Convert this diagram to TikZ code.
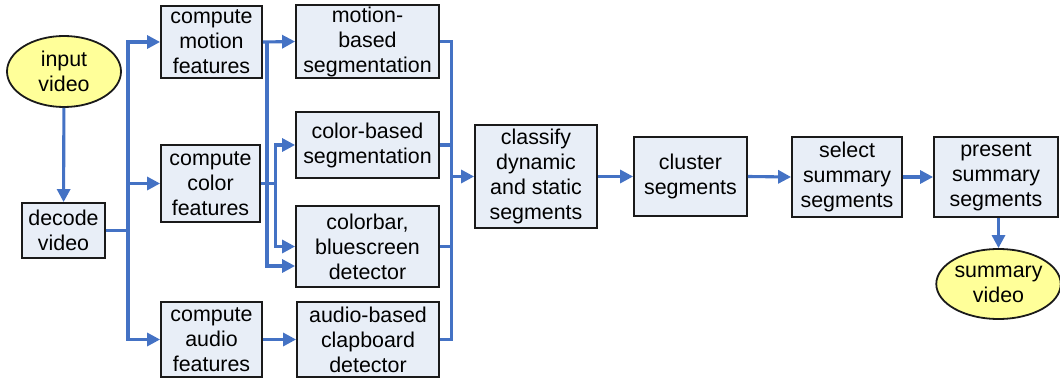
\documentclass[tikz,border=0pt]{standalone}
\usepackage{fontspec}
\setmainfont{Liberation Sans}
\usetikzlibrary{arrows.meta,shapes.geometric,calc}
\definecolor{lineblue}{HTML}{4472C4}
\definecolor{boxfill}{HTML}{E8EEF7}
\definecolor{ellfill}{HTML}{FFFF99}
\definecolor{edge}{HTML}{1A1A1A}
\begin{document}
\begin{tikzpicture}[x=1pt,y=-1pt,
  every node/.style={font=\fontsize{21.4pt}{25pt}\selectfont, align=center, inner sep=0pt},
  procbox/.style={draw=edge, line width=1.8pt, fill=boxfill, rectangle},
  ioell/.style={draw=edge, line width=1.8pt, fill=ellfill, ellipse},
  conn/.style={draw=lineblue, line width=3.1pt},
  arr/.style={conn, -{Triangle[length=13pt,width=13pt]}}
]
\useasboundingbox (0,0) rectangle (1060,379);

% nodes
\node[ioell, minimum width=114pt, minimum height=71pt] (input) at (64,71.5) {input\\video};
\node[procbox, minimum width=83pt, minimum height=55pt] (decode) at (63.5,230.5) {decode\\video};
\node[procbox, minimum width=101pt, minimum height=72pt] (cmotion) at (211.5,42) {compute\\motion\\features};
\node[procbox, minimum width=99pt, minimum height=77pt] (ccolor) at (210.5,183.5) {compute\\color\\features};
\node[procbox, minimum width=101pt, minimum height=75pt] (caudio) at (211.5,339.5) {compute\\audio\\features};
\node[procbox, minimum width=143pt, minimum height=73pt] (mseg) at (367.5,41.5) {motion-\\based\\segmentation};
\node[procbox, minimum width=143pt, minimum height=66pt] (cseg) at (367.5,145) {color-based\\segmentation};
\node[procbox, minimum width=143pt, minimum height=81pt] (cbar) at (367.5,246.5) {colorbar,\\bluescreen\\detector};
\node[procbox, minimum width=142pt, minimum height=75pt] (aclap) at (368,339.5) {audio-based\\clapboard\\detector};
\node[procbox, minimum width=122pt, minimum height=103pt] (classify) at (536,176.5) {classify\\dynamic\\and static\\segments};
\node[procbox, minimum width=113pt, minimum height=79pt] (cluster) at (690.5,176.5) {cluster\\segments};
\node[procbox, minimum width=110pt, minimum height=80pt] (select) at (847,177) {select\\summary\\segments};
\node[procbox, minimum width=124pt, minimum height=80pt] (present) at (996,177) {present\\summary\\segments};
\node[ioell, minimum width=117pt, minimum height=70pt] (summary) at (998.5,284) {summary\\video};

% input -> decode
\draw[arr] (input) -- (decode);

% decode bus
\coordinate (b1) at (128,230.5);
\draw[conn] (decode.east) -- (b1);
\draw[arr] (b1) |- (cmotion.west);
\draw[arr] (b1) |- (ccolor.west);
\draw[arr] (b1) |- (caudio.west);

% motion features
\coordinate (m1) at (267,42);
\draw[arr] (cmotion.east) -- (mseg.west);
\draw[arr] (m1) |- ([yshift=-19.5pt]cbar.west);

% color features
\coordinate (c1) at (275.5,183.5);
\draw[conn] (ccolor.east) -- (c1);
\draw[arr] (c1) |- (cseg.west);
\draw[arr] (c1) |- (cbar.west);

% audio
\draw[arr] (caudio.east) -- (aclap.west);

% output bus
\coordinate (o) at (451.5,176.5);
\draw[conn] (mseg.east) -| (o);
\draw[conn] (cseg.east) -| (o);
\draw[conn] (cbar.east) -| (o);
\draw[conn] (aclap.east) -| (o);
\draw[arr] (o) -- (classify.west);

% chain
\draw[arr] (classify.east) -- (cluster.west);
\draw[arr] (cluster.east) -- (select.west);
\draw[arr] (select.east) -- (present.west);
\draw[arr] (present.south -| summary.north) -- (summary.north);
\end{tikzpicture}
\end{document}
